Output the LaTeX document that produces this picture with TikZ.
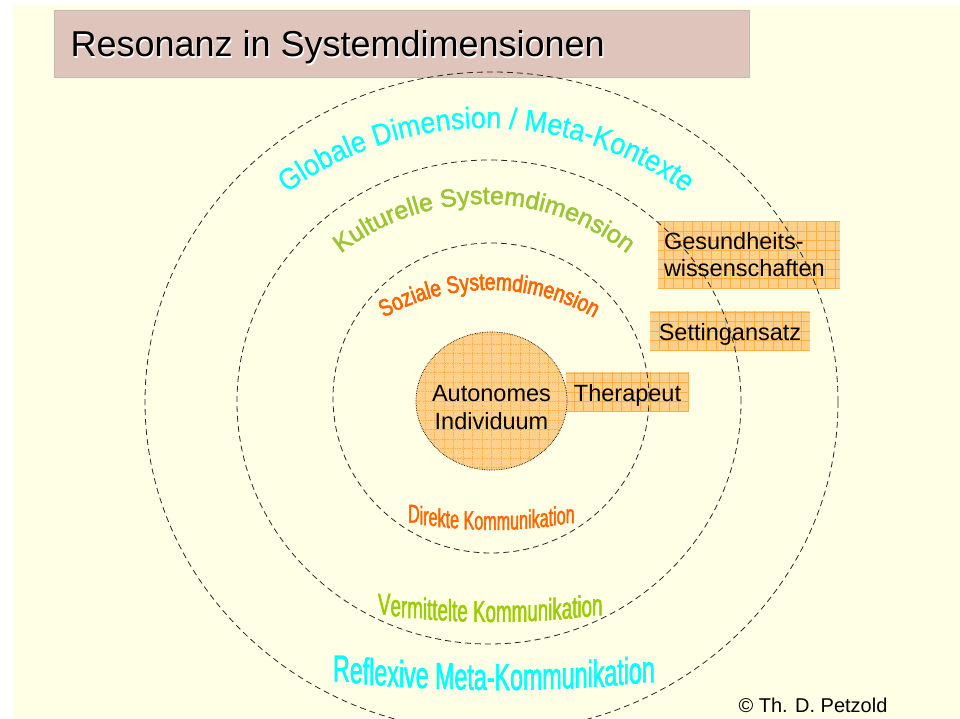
\documentclass[tikz,border=0pt]{standalone}
\usepackage{fontspec}
\setmainfont{Liberation Sans}
\newfontfamily\narrowfont[FakeStretch=0.62,FakeBold=1.5]{Liberation Sans}
\newfontfamily\sozfont[FakeStretch=0.8,FakeBold=2.5]{Liberation Sans}
\newfontfamily\kulfont[FakeBold=2]{Liberation Sans}
\newfontfamily\globfont[FakeStretch=0.9,FakeBold=0.5]{Liberation Sans}
\usetikzlibrary{shapes.geometric,decorations.text,calc}
\definecolor{bgyellow}{HTML}{FFFFE6}
\definecolor{titlefill}{HTML}{DEC4BA}
\definecolor{titleline}{HTML}{C2B8B2}
\definecolor{boxfill}{HTML}{FFD08A}
\definecolor{gridorange}{HTML}{FFAD45}
\definecolor{globcyan}{HTML}{00FFFF}
\definecolor{kulgreen}{HTML}{9CC43A}
\definecolor{vermgreen}{HTML}{99CC00}
\definecolor{sozorange}{HTML}{FF6600}
\tikzset{
  gridbox/.style={fill=boxfill, inner sep=0pt,
    path picture={\draw[gridorange, line width=0.55pt, step=9.5pt]
      (path picture bounding box.south west) grid (path picture bounding box.north east);}},
  ring/.style={draw=black!85, line width=0.8pt, dash pattern=on 6pt off 4pt},
  boxtext/.style={font=\fontsize{23.5}{27}\selectfont, text=black},
  arclabel/.style={decorate, decoration={text along path, text align=center, text color=#1}},
  archchar/.style={anchor=base west, inner sep=0pt, outer sep=0pt},
}
% upright letters whose baselines follow a circle below its centre
% #1 prefix, #2 style, #3 cx, #4 cy, #5 r, #6 left x, #7 letters
\newcommand\uprightarc[7]{%
  \coordinate (#1s) at (#6,0);
  \foreach \ch [count=\k] in {#7}{%
    \pgfmathtruncatemacro\kp{\k-1}%
    \ifnum\k=1 \edef\prevanchor{#1s}\else \edef\prevanchor{#1\kp.base east}\fi
    \path let \p1=(\prevanchor) in
      node[archchar, #2] (#1\k) at (\x1, {#4-#5*sqrt(1-((\x1+4pt-#3)/#5)^2)}) {\ch};%
  }%
}
\begin{document}
\begin{tikzpicture}[x=1pt,y=1pt]
\useasboundingbox (0,0) rectangle (960,718);
\clip (0,0) rectangle (960,718);
\fill[white] (0,0) rectangle (960,718);
\fill[bgyellow] (13,0) rectangle (960,713);

% title
\node[fill=titlefill, draw=titleline, line width=0.8pt, minimum width=695pt, minimum height=67pt, inner sep=0pt] (titlebox) at (401.5,674.5) {};
\node[anchor=base west, font=\fontsize{36}{40}\selectfont, text=white] (titleshadow) at (68.2,659.8) {Resonanz in Systemdimensionen};
\node[anchor=base west, font=\fontsize{36}{40}\selectfont, text=black] (title) at (67,661) {Resonanz in Systemdimensionen};

% boxes
\node[gridbox, minimum width=182pt, minimum height=68pt, boxtext, align=left, text width=170pt] (gesund) at (749,463) {Gesundheits-\\wissenschaften};
\node[gridbox, minimum width=160pt, minimum height=40pt, boxtext, text height=22pt, text depth=3pt] (setting) at (730,387) {Settingansatz};
\node[gridbox, minimum width=123pt, minimum height=40pt, boxtext, text height=22pt, text depth=3pt] (therapeut) at (627.5,326) {Therapeut};

% individual
\node[gridbox, ellipse, draw=black, line width=0.7pt, densely dotted, minimum width=151pt, minimum height=138pt] (indiv) at (491.5,317) {};
\node[boxtext, align=center, font=\fontsize{23.5}{28}\selectfont] (indivtext) at ([yshift=-6.5pt]indiv.center) {Autonomes\\Individuum};

% rings
\draw[ring] (491,320) ellipse [x radius=158, y radius=155];
\draw[ring] (489,316) ellipse [x radius=252, y radius=242];
\draw[ring] (491.5,316) ellipse [x radius=346.5, y radius=330];

% curved labels (upper)
\path[arclabel=globcyan, decoration={text={|\globfont\fontsize{30}{30}\selectfont|Globale Dimension / Meta-Kontexte}}]
  (486,252) ++(145:338) arc[start angle=145, end angle=35, radius=338];
\path[arclabel=kulgreen, decoration={text={|\kulfont\fontsize{25}{25}\selectfont|Kulturelle Systemdimension}}]
  (484,283) ++(150:231) arc[start angle=150, end angle=30, radius=231];
\path[arclabel=sozorange, decoration={text={|\sozfont\fontsize{24}{24}\selectfont|Soziale Systemdimension}}]
  (489,215) ++(150:213) arc[start angle=150, end angle=30, radius=213];

% curved labels (lower, upright letters)
\uprightarc{dk}{font=\narrowfont\fontsize{26}{26}\selectfont, text=sozorange}{492}{633}{445}{408}
  {D,i,r,e,k,t,e,\phantom{t},K,o,m,m,u,n,i,k,a,t,i,o,n}
\uprightarc{vk}{font=\narrowfont\fontsize{30.3}{30.3}\selectfont, text=vermgreen}{492}{926}{830}{378}
  {V,e,r,m,i,t,t,e,l,t,e,\phantom{t},K,o,m,m,u,n,i,k,a,t,i,o,n}
\uprightarc{rk}{font=\narrowfont\fontsize{37.5}{37.5}\selectfont, text=globcyan}{495}{1508}{1480}{333}
  {R,e,f,l,e,x,i,v,e,\phantom{t},M,e,t,a,-,K,o,m,m,u,n,i,k,a,t,i,o,n}

% copyright
\node[anchor=base west, font=\fontsize{20}{24}\selectfont] (copyright) at (735,6) {© Th. D. Petzold};
\end{tikzpicture}
\end{document}
